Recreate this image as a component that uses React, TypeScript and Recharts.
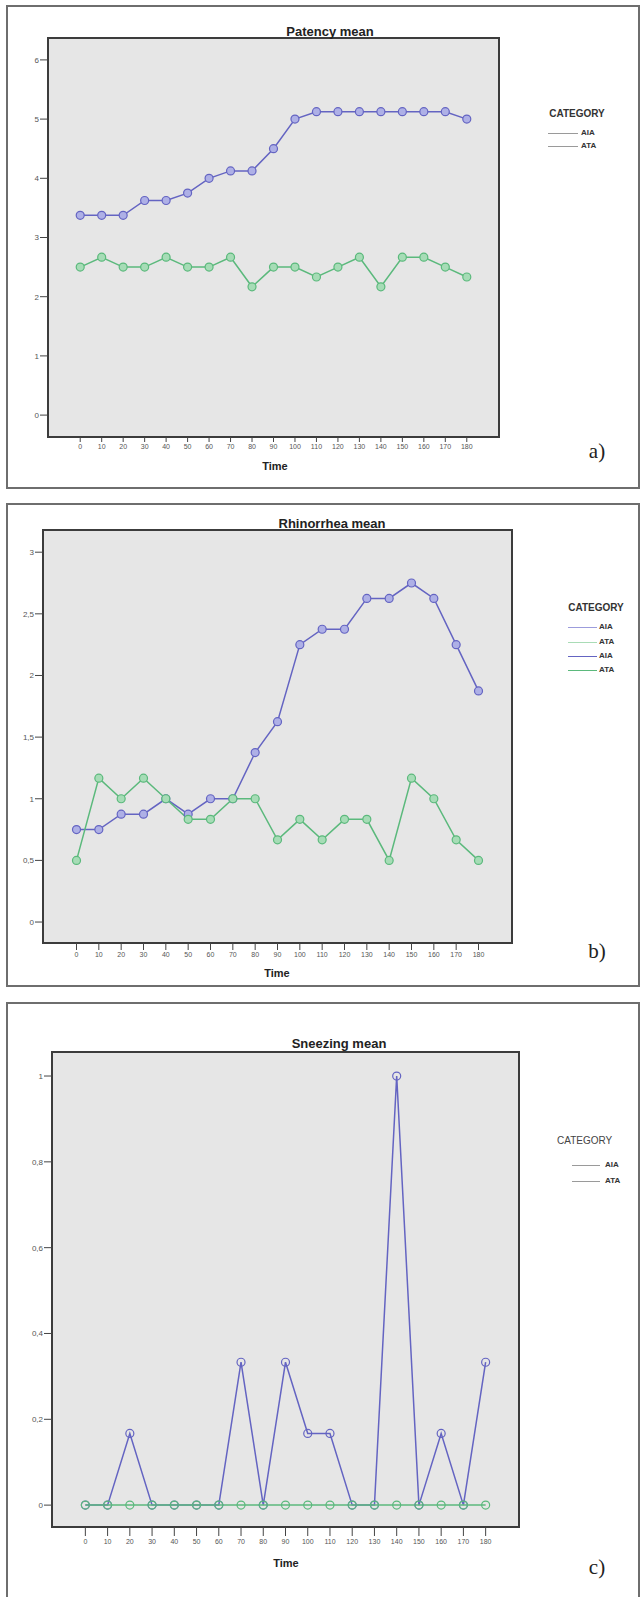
import { LineChart, Line, XAxis, YAxis, ReferenceArea } from "recharts";

const times = [0, 10, 20, 30, 40, 50, 60, 70, 80, 90, 100, 110, 120, 130, 140, 150, 160, 170, 180];

const patencyAIA = [3.375, 3.375, 3.375, 3.625, 3.625, 3.75, 4.0, 4.125, 4.125, 4.5, 5.0, 5.125, 5.125, 5.125, 5.125, 5.125, 5.125, 5.125, 5.0];
const patencyATA = [2.5, 2.667, 2.5, 2.5, 2.667, 2.5, 2.5, 2.667, 2.167, 2.5, 2.5, 2.333, 2.5, 2.667, 2.167, 2.667, 2.667, 2.5, 2.333];

const rhinoAIA = [0.75, 0.75, 0.875, 0.875, 1.0, 0.875, 1.0, 1.0, 1.375, 1.625, 2.25, 2.375, 2.375, 2.625, 2.625, 2.75, 2.625, 2.25, 1.875];
const rhinoATA = [0.5, 1.167, 1.0, 1.167, 1.0, 0.833, 0.833, 1.0, 1.0, 0.667, 0.833, 0.667, 0.833, 0.833, 0.5, 1.167, 1.0, 0.667, 0.5];

const sneezeAIA = [0, 0, 0.167, 0, 0, 0, 0, 0.333, 0, 0.333, 0.167, 0.167, 0, 0, 1.0, 0, 0.167, 0, 0.333];
const sneezeATA = [0, 0, 0, 0, 0, 0, 0, 0, 0, 0, 0, 0, 0, 0, 0, 0, 0, 0, 0];

const patencyTicks = [0, 1, 2, 3, 4, 5, 6];
const rhinoTicks = [0, 0.5, 1, 1.5, 2, 2.5, 3];
const sneezeTicks = [0, 0.2, 0.4, 0.6, 0.8, 1];

const FONT = "'Liberation Sans', Arial, sans-serif";
const AIA_COLOR = "#6464c2";
const ATA_COLOR = "#5bb97c";

const toRows = (aia: number[], ata: number[]) =>
  times.map((t, i) => ({ time: t, AIA: aia[i], ATA: ata[i] }));

const comma = (v: number) => String(v).replace(".", ",");

const Txt = ({ x, y, size, bold, color, serif, children, left }: any) => (
  <div
    style={{
      position: "absolute",
      left: x,
      top: y,
      transform: left ? "translate(0,-50%)" : "translate(-50%,-50%)",
      whiteSpace: "nowrap",
      fontFamily: serif ? "'Liberation Serif', 'DejaVu Serif', serif" : FONT,
      fontSize: size,
      fontWeight: bold ? 700 : 400,
      color: color || "#222",
      lineHeight: 1,
    }}
  >
    {children}
  </div>
);

const LegendRow = ({ x1, x2, y, color, label, textX }: any) => (
  <>
    <div style={{ position: "absolute", left: x1, top: y, width: x2 - x1, height: 1, background: color }} />
    <Txt x={textX} y={y} size={8} bold left color="#333">{label}</Txt>
  </>
);

type PanelProps = {
  top: number;
  width: number;
  height: number;
  margin: { top: number; right: number; bottom: number; left: number };
  yWidth: number;
  domain: [number, number];
  yTicks: number[];
  aia: number[];
  ata: number[];
  tickSize: number;
  tickMargin: number;
  hollow?: boolean;
};

const Panel = ({ top, width, height, margin, yWidth, domain, yTicks, aia, ata, tickSize, tickMargin, hollow }: PanelProps) => {
  const rows = toRows(aia, ata);
  return (
    <div style={{ position: "absolute", left: 0, top }}>
      <LineChart width={width} height={height} data={rows} margin={margin}>
        <ReferenceArea
          x1={-15}
          x2={195}
          y1={domain[0]}
          y2={domain[1]}
          fill="#e6e6e6"
          fillOpacity={1}
          stroke="#3c3c3c"
          strokeWidth={2}
          ifOverflow="visible"
        />
        <XAxis
          dataKey="time"
          type="number"
          domain={[-15, 195]}
          ticks={times}
          interval={0}
          allowDataOverflow
          axisLine={false}
          tickLine={{ stroke: "#444" }}
          tickSize={tickSize}
          tickMargin={tickMargin}
          height={30}
          tick={{ fontSize: 7, fill: "#555", fontFamily: FONT }}
        />
        <YAxis
          type="number"
          domain={domain}
          ticks={yTicks}
          allowDataOverflow
          axisLine={false}
          tickLine={{ stroke: "#444" }}
          tickSize={8}
          tickMargin={1}
          width={yWidth}
          tickFormatter={comma}
          tick={{ fontSize: 8, fill: "#555", fontFamily: FONT }}
        />
        <Line
          dataKey="AIA"
          stroke={AIA_COLOR}
          strokeWidth={1.5}
          isAnimationActive={false}
          activeDot={false}
          dot={{ r: 4, fill: hollow ? "none" : "#aeb0e6", stroke: AIA_COLOR, strokeWidth: 1.2 }}
        />
        <Line
          dataKey="ATA"
          stroke={ATA_COLOR}
          strokeWidth={1.5}
          isAnimationActive={false}
          activeDot={false}
          dot={{ r: 4, fill: hollow ? "none" : "#a6dcb6", stroke: ATA_COLOR, strokeWidth: 1.2 }}
        />
      </LineChart>
    </div>
  );
};

const Box = ({ top, height }: { top: number; height: number }) => (
  <div
    style={{
      position: "absolute",
      left: 6,
      top,
      width: 634,
      height,
      border: "2px solid #6e6e6e",
      boxSizing: "border-box",
    }}
  />
);

export default function App() {
  return (
    <div
      style={{
        position: "absolute",
        left: 0,
        top: 0,
        width: 643,
        height: 1597,
        overflow: "hidden",
        background: "#fff",
      }}
    >
      <Box top={5} height={484} />
      <Box top={503} height={484} />
      <Box top={1002} height={640} />

      {/* a) Patency */}
      <Panel
        top={0}
        width={520}
        height={467}
        margin={{ top: 38, right: 21, bottom: 0, left: 8 }}
        yWidth={40}
        domain={[-0.37, 6.37]}
        yTicks={patencyTicks}
        aia={patencyAIA}
        ata={patencyATA}
        tickSize={5}
        tickMargin={2}
      />
      <Txt x={330} y={31} size={13} bold>Patency mean</Txt>
      <Txt x={275} y={466} size={11} bold>Time</Txt>
      <Txt x={597} y={451} size={21} serif>a)</Txt>
      <Txt x={577} y={114} size={10} bold color="#333">CATEGORY</Txt>
      <LegendRow x1={548} x2={578} y={133} color="#9a9a9a" label="AIA" textX={581} />
      <LegendRow x1={548} x2={578} y={146} color="#9a9a9a" label="ATA" textX={581} />

      {/* b) Rhinorrhea */}
      <Panel
        top={490}
        width={530}
        height={483}
        margin={{ top: 40, right: 18, bottom: 0, left: 8 }}
        yWidth={35}
        domain={[-0.17, 3.18]}
        yTicks={rhinoTicks}
        aia={rhinoAIA}
        ata={rhinoATA}
        tickSize={7}
        tickMargin={2}
      />
      <Txt x={332} y={523} size={13} bold>Rhinorrhea mean</Txt>
      <Txt x={277} y={973} size={11} bold>Time</Txt>
      <Txt x={597} y={951} size={21} serif>b)</Txt>
      <Txt x={596} y={608} size={10} bold color="#333">CATEGORY</Txt>
      <LegendRow x1={568} x2={597} y={627} color="#9c9cdc" label="AIA" textX={599} />
      <LegendRow x1={568} x2={597} y={642} color="#a9dcb6" label="ATA" textX={599} />
      <LegendRow x1={568} x2={597} y={656} color={AIA_COLOR} label="AIA" textX={599} />
      <LegendRow x1={568} x2={597} y={670} color={ATA_COLOR} label="ATA" textX={599} />

      {/* c) Sneezing */}
      <Panel
        top={1000}
        width={540}
        height={557}
        margin={{ top: 52, right: 21, bottom: 0, left: 8 }}
        yWidth={44}
        domain={[-0.051, 1.056]}
        yTicks={sneezeTicks}
        aia={sneezeAIA}
        ata={sneezeATA}
        tickSize={9}
        tickMargin={3}
        hollow
      />
      <Txt x={339} y={1043} size={13} bold>Sneezing mean</Txt>
      <Txt x={286} y={1563} size={11} bold>Time</Txt>
      <Txt x={597} y={1567} size={21} serif>c)</Txt>
      <Txt x={557} y={1141} size={10} color="#444" left>CATEGORY</Txt>
      <LegendRow x1={572} x2={600} y={1165} color="#9a9a9a" label="AIA" textX={605} />
      <LegendRow x1={572} x2={600} y={1181} color="#9a9a9a" label="ATA" textX={605} />
    </div>
  );
}
